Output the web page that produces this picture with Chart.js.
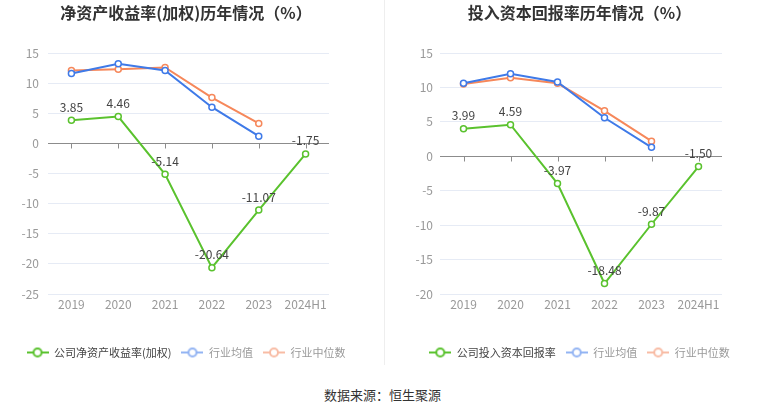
<!DOCTYPE html>
<html><head><meta charset="utf-8">
<script src="https://cdn.jsdelivr.net/npm/chart.js@4.4.1/dist/chart.umd.min.js"></script>
<style>
html,body{margin:0;padding:0;background:#fff;overflow:hidden;width:765px;height:413px;}
#wrap{position:relative;width:765px;height:413px;}
canvas{position:absolute;top:0;}
#c1{left:0;} #c2{left:395px;}
#divider{position:absolute;left:384px;top:0;width:1px;height:365px;background:#eeeeee;}
#src{position:absolute;left:0;width:765px;top:385px;line-height:19px;text-align:center;font-size:13px;font-family:"Noto Sans CJK SC",sans-serif;color:#333;}
</style></head>
<body><div id="wrap">
<canvas id="c1" width="372" height="368"></canvas>
<div id="divider"></div>
<canvas id="c2" width="369" height="368"></canvas>
<div id="src">数据来源：恒生聚源</div>
</div>
<script>
const years = ['2019','2020','2021','2022','2023','2024H1'];
const roeCompany = [3.85, 4.46, -5.14, -20.64, -11.07, -1.75];
const roeIndustryAvg = [11.6, 13.2, 12.1, 6.0, 1.2, null];
const roeIndustryMedian = [12.1, 12.3, 12.6, 7.6, 3.3, null];
const roicCompany = [3.99, 4.59, -3.97, -18.48, -9.87, -1.50];
const roicIndustryAvg = [10.6, 12.0, 10.8, 5.6, 1.3, null];
const roicIndustryMedian = [10.5, 11.4, 10.6, 6.6, 2.2, null];
const seriesNames = ['行业均值', '行业中位数'];

const FONT = '"Noto Sans CJK SC","Noto Sans",sans-serif';
Chart.defaults.font.family = FONT;

const GREEN = '#5ac22e', BLUE = '#3f7ae8', ORANGE = '#f6885b';
const BLUE_L = '#93b4f3', ORANGE_L = '#f8bca5';

function makeIcon(color){
  const c = document.createElement('canvas');
  c.width = 22; c.height = 12;
  const g = c.getContext('2d');
  g.strokeStyle = color; g.lineWidth = 2;
  g.beginPath(); g.moveTo(0,6); g.lineTo(22,6); g.stroke();
  g.beginPath(); g.arc(11,6,4,0,Math.PI*2); g.fillStyle='#fff'; g.fill(); g.stroke();
  return c;
}

const zeroAxis = {
  id:'zeroAxis',
  beforeDatasetsDraw(chart){
    const {ctx, chartArea, scales} = chart;
    const x = scales.x, y = scales.y;
    const y0 = Math.round(y.getPixelForValue(0)) + 0.5;
    ctx.save();
    ctx.strokeStyle = '#8c8c8c'; ctx.lineWidth = 1;
    ctx.beginPath();
    ctx.moveTo(chartArea.left, y0); ctx.lineTo(chartArea.right, y0);
    years.forEach((_, i) => {
      const px = Math.round(x.getPixelForValue(i)) + 0.5;
      ctx.moveTo(px, y0); ctx.lineTo(px, y0 + 5);
    });
    ctx.stroke();
    ctx.restore();
  }
};

const valueLabels = {
  id:'valueLabels',
  afterDatasetsDraw(chart){
    const {ctx} = chart;
    const meta = chart.getDatasetMeta(0);
    const data = chart.data.datasets[0].data;
    ctx.save();
    ctx.font = '12px ' + FONT;
    ctx.fillStyle = '#444';
    ctx.textAlign = 'center';
    ctx.textBaseline = 'middle';
    meta.data.forEach((pt, i) => {
      const v = data[i];
      if (v == null) return;
      ctx.fillText(v.toFixed(2), pt.x, pt.y - 13);
    });
    ctx.restore();
  }
};

function makeChart(id, title, companyName, company, avg, median, yMin, yWidth, yPad, rightWidth){
  const icons = [makeIcon(GREEN), makeIcon(BLUE_L), makeIcon(ORANGE_L)];
  const textColors = ['#444', '#999', '#999'];
  const lineDs = (label, data, color) => ({
    label, data, borderColor: color, backgroundColor: color,
    borderWidth: 2, pointRadius: 3, pointHoverRadius: 4, pointBorderWidth: 1.5,
    pointBackgroundColor: '#fff', pointBorderColor: color, tension: 0, spanGaps: false
  });
  return new Chart(document.getElementById(id), {
    type: 'line',
    data: {
      labels: years,
      datasets: [
        lineDs(companyName, company, GREEN),
        lineDs(seriesNames[0], avg, BLUE),
        lineDs(seriesNames[1], median, ORANGE)
      ]
    },
    options: {
      responsive: false,
      animation: false,
      layout: { padding: 0 },
      plugins: {
        title: {
          display: true, text: title, color: '#333',
          font: { size: 16, weight: 'bold', family: FONT },
          padding: { top: 3, bottom: 30.8 }
        },
        legend: {
          display: true, position: 'bottom',
          labels: {
            usePointStyle: true, pointStyleWidth: 22, padding: 10,
            font: { size: 11, family: FONT },
            generateLabels(chart){
              return chart.data.datasets.map((ds, i) => ({
                text: ds.label, pointStyle: icons[i], fontColor: textColors[i],
                fillStyle: ds.borderColor, strokeStyle: ds.borderColor, lineWidth: 0,
                hidden: !chart.isDatasetVisible(i), datasetIndex: i
              }));
            }
          }
        },
        tooltip: { enabled: false }
      },
      scales: {
        x: {
          offset: true,
          grid: { display: false, drawTicks: false },
          border: { display: false },
          ticks: { color: '#999', font: { size: 12 }, padding: 3, maxRotation: 0 },
          afterFit(s){ s.height = 43; }
        },
        y: {
          min: yMin, max: 15,
          grid: {
            drawTicks: false,
            color: (c) => (c.tick && c.tick.value === 0) ? 'rgba(0,0,0,0)' : '#e6ebf5'
          },
          border: { display: false },
          ticks: { stepSize: 5, color: '#999', font: { size: 12 }, padding: yPad },
          afterFit(s){ s.width = yWidth; }
        },
        yR: {
          position: 'right', display: true,
          grid: { display: false, drawTicks: false },
          border: { display: false },
          ticks: { display: false },
          afterFit(s){ s.width = rightWidth; }
        }
      }
    },
    plugins: [zeroAxis, valueLabels]
  });
}

makeChart('c1', '净资产收益率(加权)历年情况（%）', '公司净资产收益率(加权)',
  roeCompany, roeIndustryAvg, roeIndustryMedian, -25, 48, 9, 43);
makeChart('c2', '投入资本回报率历年情况（%）', '公司投入资本回报率',
  roicCompany, roicIndustryAvg, roicIndustryMedian, -20, 45, 7, 42);
</script>
</body></html>
